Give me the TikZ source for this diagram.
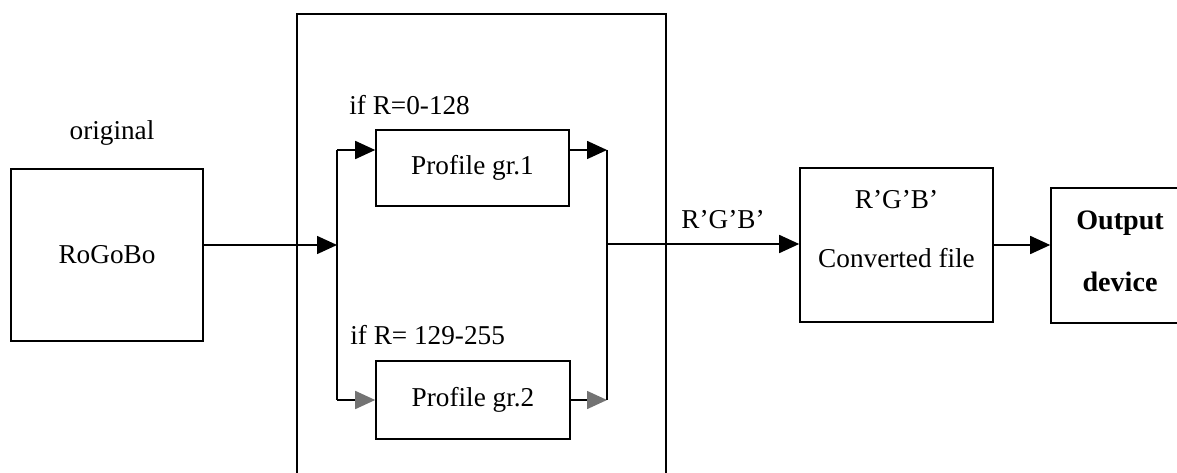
\documentclass[tikz,border=0pt]{standalone}
\usepackage{fontspec}
\setmainfont{Liberation Serif}
\usetikzlibrary{arrows.meta}
\usetikzlibrary{positioning}
\tikzset{
	blockbox/.style={draw, line width=0.9pt, inner sep=0pt},
	flowline/.style={line width=0.9pt},
	flowarrow/.style={line width=0.9pt, -{Triangle[length=0.4cm,width=0.36cm]}},
	greyarrow/.style={line width=0.9pt, -{Triangle[length=0.4cm,width=0.36cm,color=black!55]}},
}

\begin{document}
\begin{tikzpicture}[x=0.02cm,y=-0.02cm,font=\fontsize{15.5}{18}\selectfont]
	\useasboundingbox (0,0) rectangle (1177,473);
	\clip (0,0) rectangle (1177,473);
	\draw[flowline] (297,520) -- (297,14) -- (666,14) -- (666,520);% frame
	\node[blockbox, minimum width=3.84cm, minimum height=3.44cm] (orig) at (107,255){RoGoBo};
	\node (origlbl) at (112,133){original};
	\node[blockbox, minimum width=3.86cm, minimum height=1.52cm] (grone) at (472.5,168){Profile gr.1};
	\node[blockbox, minimum width=3.88cm, minimum height=1.56cm] (grtwo) at (473,400){Profile gr.2};
	\node[anchor=west, inner sep=0pt] (condone) at (349,105){if R=0-128};
	\node[anchor=west, inner sep=0pt] (condtwo) at (350,335){if R= 129-255};
	\node[blockbox, minimum width=3.86cm, minimum height=3.08cm] (conv) at (896.5,245){};
	\node (convtop) at (896.5,200){R’G’B’};
	\node (convbot) at (896.5,258){Converted file};
	\node[blockbox, minimum width=2.76cm, minimum height=2.70cm] (out) at (1120,255.5){};
	\node[font=\fontsize{16}{18}\selectfont\bfseries] (outtop) at (1120,223){Output};
	\node[font=\fontsize{16}{18}\selectfont\bfseries] (outbot) at (1120,282){device};
	\coordinate (split) at (337,245);
	\coordinate (sa) at (337,150);
	\coordinate (sb) at (337,400);
	\coordinate (ma) at (607,150);
	\coordinate (mb) at (607,400);
	\coordinate (merge) at (607,244);
	\draw[flowarrow] (orig.east |- split) -- (split);
	\draw[flowline] (sa) -- (sb);
	\draw[flowarrow] (sa) -- (sa -| grone.west);
	\draw[greyarrow] (sb) -- (grtwo.west);
	\draw[flowarrow] (sa -| grone.east) -- (ma);
	\draw[greyarrow] (grtwo.east) -- (mb);
	\draw[flowline] (ma) -- (mb);
	\draw[flowarrow] (merge) -- (conv.west |- merge);
	\node (rgb) at (723,220){R’G’B’};
	\draw[flowarrow] (conv.east) -- (out.west |- conv.east);
\end{tikzpicture}
\end{document}
